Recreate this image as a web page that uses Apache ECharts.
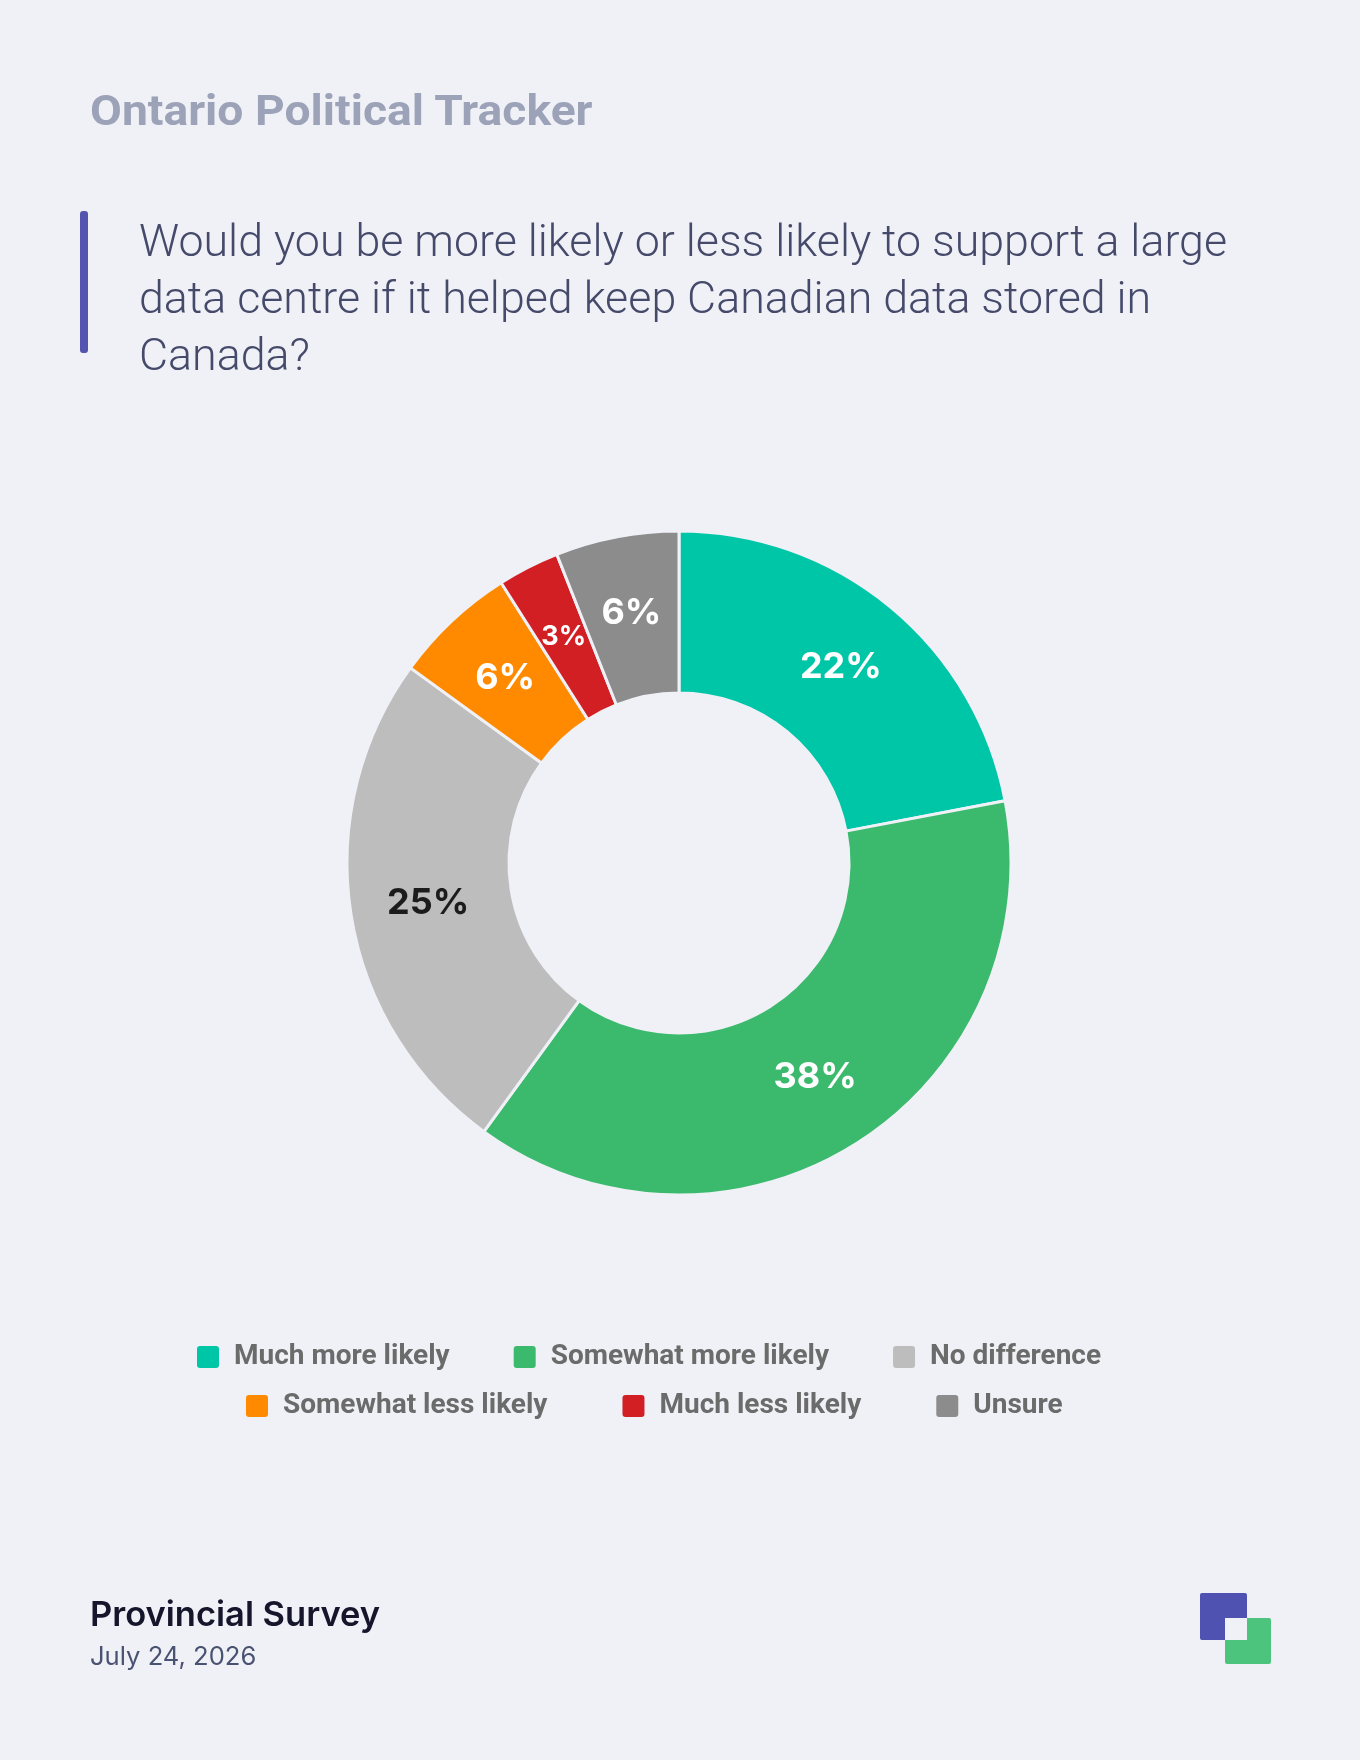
<!DOCTYPE html>
<html>
<head>
<meta charset="utf-8">
<script src="https://cdn.jsdelivr.net/npm/echarts@6/dist/echarts.min.js"></script>
<style>
  html, body { margin: 0; padding: 0; background: #f0f1f7; }
  #page { position: relative; width: 1360px; height: 1760px; background: #f0f1f7; overflow: hidden; }
  #kicker { position: absolute; left: 90px; top: 86px; font-family: "Roboto", sans-serif; font-weight: 700;
    font-size: 42px; color: #9ca3b8; white-space: nowrap; transform-origin: left top; }
  #qbar { position: absolute; left: 80px; top: 211px; width: 8px; height: 142px; background: #5254b0; border-radius: 3px; }
  #question { position: absolute; left: 139px; top: 213px; font-family: "Roboto", sans-serif; font-weight: 300;
    font-size: 44px; line-height: 57px; color: #464a6a; white-space: nowrap; transform-origin: left top; }
  #chart { position: absolute; left: 0; top: 0; width: 1360px; height: 1760px; }
  #source { position: absolute; left: 90px; top: 1593px; font-family: "Inter", sans-serif; font-weight: 600;
    font-size: 34.5px; color: #15152b; white-space: nowrap; }
  #date { position: absolute; left: 90px; top: 1640px; font-family: "Inter", sans-serif; font-weight: 400;
    font-size: 25.6px; color: #4a5272; white-space: nowrap; }
  .logo { position: absolute; border-radius: 2px; }
</style>
</head>
<body>
<div id="page">
  <div id="chart"></div>
  <div id="kicker">Ontario Political Tracker</div>
  <div id="qbar"></div>
  <div id="question">Would you be more likely or less likely to support a large<br>data centre if it helped keep Canadian data stored in<br>Canada?</div>
  <div id="source">Provincial Survey</div>
  <div id="date">July 24, 2026</div>
  <div class="logo" style="left:1200px;top:1593px;width:47px;height:47px;background:#4f52b0;"></div>
  <div class="logo" style="left:1225px;top:1618px;width:46px;height:46px;background:#4cc47e;"></div>
  <div class="logo" style="left:1225px;top:1618px;width:22px;height:22px;background:#f0f1f7;border-radius:0;"></div>
</div>
<script>
const categories = ["Much more likely", "Somewhat more likely", "No difference", "Somewhat less likely", "Much less likely", "Unsure"];
const values = [22, 38, 25, 6, 3, 6];
const colors = ["#00c6a8", "#3bba6e", "#bdbdbd", "#ff8a00", "#d21f24", "#8c8c8c"];
const labelColors = ["#ffffff", "#ffffff", "#1c1c1c", "#ffffff", "#ffffff", "#ffffff"];
const labelSizes = [36, 36, 36, 36, 27, 36];

// squeeze the condensed-looking header texts to the reference widths
function fitWidth(id, w) {
  const el = document.getElementById(id);
  const cur = el.scrollWidth;
  el.style.transform = "scaleX(" + (w / cur) + ")";
}
fitWidth("kicker", 502);
fitWidth("question", 1088);

const chart = echarts.init(document.getElementById("chart"));
const legendIcon = "path://M3,0 H19 Q22,0 22,3 V19 Q22,22 19,22 H3 Q0,22 0,19 V3 Q0,0 3,0 Z";
const legendText = { fontFamily: "Roboto", fontWeight: 700, fontSize: 28, color: "#6b6b6b", padding: [0, 0, 0, 10] };
chart.setOption({
  backgroundColor: "transparent",
  color: colors,
  legend: [
    {
      data: categories.slice(0, 3),
      left: 192,
      top: 1338,
      icon: legendIcon,
      itemWidth: 22,
      itemHeight: 22,
      itemGap: 64,
      itemStyle: { borderWidth: 0 },
      textStyle: legendText,
    },
    {
      data: categories.slice(3),
      left: 241,
      top: 1387,
      icon: legendIcon,
      itemWidth: 22,
      itemHeight: 22,
      itemGap: 75,
      itemStyle: { borderWidth: 0 },
      textStyle: legendText,
    },
  ],
  series: [
    {
      type: "pie",
      center: [679, 863],
      radius: [170, 332],
      startAngle: 90,
      clockwise: true,
      avoidLabelOverlap: false,
      itemStyle: { borderColor: "#f0f1f7", borderWidth: 3 },
      label: {
        show: true,
        position: "inside",
        formatter: "{c}%",
        fontFamily: "Inter",
        fontWeight: 700,
      },
      labelLine: { show: false },
      emphasis: { disabled: true },
      data: categories.map((name, i) => ({
        name: name,
        value: values[i],
        label: { color: labelColors[i], fontSize: labelSizes[i] },
      })),
    },
  ],
});
</script>
</body>
</html>
